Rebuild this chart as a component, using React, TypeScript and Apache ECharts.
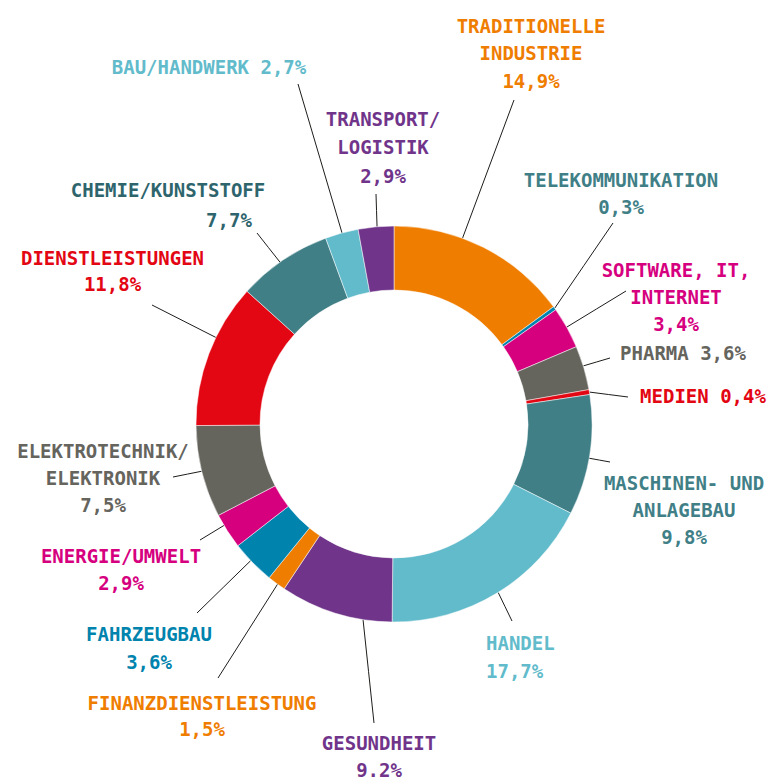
import React, { useEffect, useRef } from 'react';
import * as echarts from 'echarts';

// ---- data ----
const categories = [
  'TRADITIONELLE\nINDUSTRIE',
  'TELEKOMMUNIKATION',
  'SOFTWARE, IT,\nINTERNET',
  'PHARMA',
  'MEDIEN',
  'MASCHINEN- UND\nANLAGEBAU',
  'HANDEL',
  'GESUNDHEIT',
  'FINANZDIENSTLEISTUNG',
  'FAHRZEUGBAU',
  'ENERGIE/UMWELT',
  'ELEKTROTECHNIK/\nELEKTRONIK',
  'DIENSTLEISTUNGEN',
  'CHEMIE/KUNSTSTOFF',
  'BAU/HANDWERK',
  'TRANSPORT/\nLOGISTIK',
];
const values = [14.9, 0.3, 3.4, 3.6, 0.4, 9.8, 17.7, 9.2, 1.5, 3.6, 2.9, 7.5, 11.8, 7.7, 2.7, 2.9];
const percentLabels = [
  '14,9%', '0,3%', '3,4%', '3,6%', '0,4%', '9,8%', '17,7%', '9.2%',
  '1,5%', '3,6%', '2,9%', '7,5%', '11,8%', '7,7%', '2,7%', '2,9%',
];

// ---- styles ----
const sliceColors = [
  '#EF7D00', '#0083AD', '#D6007F', '#65645D', '#E30613', '#417F87', '#62BBCB', '#70358A',
  '#EF7D00', '#0083AD', '#D6007F', '#65645D', '#E30613', '#417F87', '#62BBCB', '#70358A',
];
const labelColors = [
  '#EF7D00', '#417F87', '#D6007F', '#65645D', '#E30613', '#417F87', '#62BBCB', '#70358A',
  '#EF7D00', '#0083AD', '#D6007F', '#65645D', '#E30613', '#2E656D', '#62BBCB', '#70358A',
];

// ---- layout (label anchors, leader line ends) ----
const CX = 394;
const CY = 424;
const R_IN = 134;
const R_OUT = 198;
const labelPos = [
  [531, 53], [621, 193.5], [676, 297], [683, 353], [703, 396], [684, 510], [486, 657], [379, 756],
  [202, 716], [149, 648], [121, 569.5], [103, 477.5], [112.5, 270.5], [168, 205], [209, 66.5], [383, 147],
];
const labelAlign = [
  'center', 'center', 'center', 'center', 'center', 'center', 'left', 'center',
  'center', 'center', 'center', 'center', 'center', 'center', 'center', 'center',
];
const inlineValue = [false, false, false, true, true, false, false, false, false, false, false, false, false, false, true, false];
const valueShift = [0, 0, 0, 0, 0, 0, 0, 0, 0, 0, 0, 0, 0, 122, 0, 0];
const lineHeights = [27.5, 27, 27, 27, 27, 27, 27.5, 27, 26.5, 27.5, 27, 27, 26, 29.5, 27, 28.5];
const lineEnd = [
  [514, 100], [613, 223], [626, 291], [610, 358], [628, 397], [610, 462], [512, 621], [374, 723],
  [218, 678], [197, 613], [200, 540], [173, 477], [152, 305], [257, 233], [298, 84], [376, 194],
];
const leaderFrac = [0.377, 0.5, 0.485, 0.456, 0.5, 0.524, 0.494, 0.255, 0.43, 0.56, 0.68, 0.506, 0.62, 0.46, 0.51, 0.53];

const FONT = "'DejaVu Sans Mono', 'Liberation Mono', monospace";
const FONT_SIZE = 19;
const FONT_WEIGHT = 'bold';

export default function App() {
  const ref = useRef<HTMLDivElement>(null);

  useEffect(() => {
    if (!ref.current) return;
    const chart = echarts.init(ref.current, null, { renderer: 'svg' });
    const total = values.reduce((a, b) => a + b, 0);
    const cumBefore: number[] = [];
    let acc = 0;
    values.forEach((v) => {
      cumBefore.push(acc);
      acc += v;
    });

    const data = values.map((v, i) => ({
      name: categories[i],
      value: v,
      itemStyle: { color: sliceColors[i] },
      label: {
        color: labelColors[i],
        lineHeight: lineHeights[i],
        rich: {
          v: {
            color: labelColors[i],
            fontFamily: FONT,
            fontSize: FONT_SIZE,
            fontWeight: FONT_WEIGHT,
            lineHeight: lineHeights[i],
            padding: [0, 0, 0, valueShift[i]],
          },
        },
      },
    }));

    chart.setOption({
      animation: false,
      backgroundColor: '#ffffff',
      series: [
        {
          type: 'pie',
          center: [CX, CY],
          radius: [R_IN, R_OUT],
          startAngle: 90,
          clockwise: true,
          avoidLabelOverlap: false,
          itemStyle: { borderColor: '#ffffff', borderWidth: 0.5 },
          emphasis: { disabled: true },
          label: {
            show: true,
            position: 'outside',
            fontFamily: FONT,
            fontSize: FONT_SIZE,
            fontWeight: FONT_WEIGHT,
            formatter: (p: any) => {
              const i = p.dataIndex;
              const sep = inlineValue[i] ? ' ' : '\n';
              const val = valueShift[i] ? `{v|${percentLabels[i]}}` : percentLabels[i];
              return `${categories[i]}${sep}${val}`;
            },
          },
          labelLine: {
            show: true,
            length: 10,
            length2: 10,
            lineStyle: { color: '#1d1d1b', width: 1 },
          },
          labelLayout: (params: any) => {
            const i = params.dataIndex;
            const ang = ((cumBefore[i] + leaderFrac[i] * values[i]) / total) * Math.PI * 2;
            const sx = CX + R_OUT * Math.sin(ang);
            const sy = CY - R_OUT * Math.cos(ang);
            const [ex, ey] = lineEnd[i];
            return {
              x: labelPos[i][0],
              y: labelPos[i][1],
              align: labelAlign[i],
              verticalAlign: 'middle',
              labelLinePoints: [
                [sx, sy],
                [(sx + ex) / 2, (sy + ey) / 2],
                [ex, ey],
              ],
            };
          },
          data,
        },
      ],
    });
    return () => chart.dispose();
  }, []);

  return (
    <div
      ref={ref}
      style={{ position: 'absolute', left: 0, top: 0, width: 768, height: 780 }}
    />
  );
}
